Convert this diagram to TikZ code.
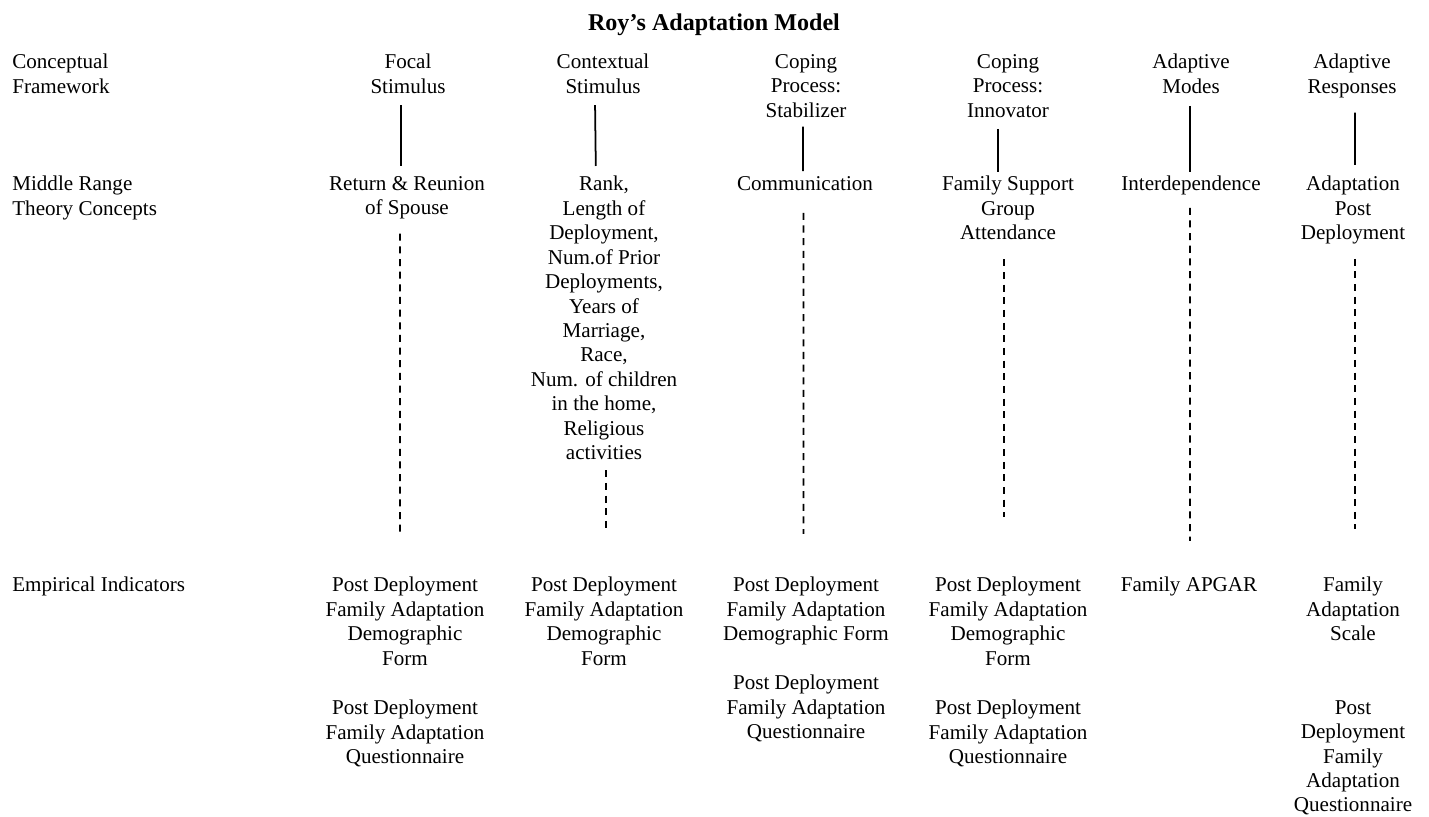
\documentclass[tikz,border=0pt]{standalone}
\usepackage{fontspec}
\setmainfont{Liberation Serif}
\usepackage{tikz}

\begin{document}
\begin{tikzpicture}[x=0.02cm, y=-0.02cm,
    txt/.style={inner sep=0pt, align=center, anchor=north, font=\fontsize{12}{13.9}\selectfont},
    rowlabel/.style={txt, align=left, anchor=north west},
    solidlink/.style={line width=1pt},
    dashlink/.style={line width=1pt, dash pattern=on 4pt off 3.2pt}]
    \useasboundingbox (0,0) rectangle (1429,816);

    \node[txt, font=\fontsize{13.7}{16}\selectfont\bfseries] (title) at (714,13) {Roy's Adaptation Model};

    \node[rowlabel] (lab1) at (12,54) {Conceptual\\Framework};
    \node[rowlabel] (lab2) at (12,176) {Middle Range\\Theory Concepts};
    \node[rowlabel] (lab3) at (12,577) {Empirical Indicators};

    \node[txt] (fs) at (408,54) {Focal\\Stimulus};
    \node[txt] (cs) at (603,54) {Contextual\\Stimulus};
    \node[txt] (stab) at (806,54) {Coping\\Process:\\Stabilizer};
    \node[txt] (innov) at (1008,54) {Coping\\Process:\\Innovator};
    \node[txt] (modes) at (1191,54) {Adaptive\\Modes};
    \node[txt] (resp) at (1352,54) {Adaptive\\Responses};

    \node[txt] (reunion) at (407,176) {Return \& Reunion\\of Spouse};
    \node[txt] (rank) at (604,176) {Rank,\\Length of\\Deployment,\\Num.of Prior\\Deployments,\\Years of\\Marriage,\\Race,\\Num. of children\\in the home,\\Religious\\activities};
    \node[txt] (comm) at (805,176) {Communication};
    \node[txt] (fsg) at (1008,176) {Family Support\\Group\\Attendance};
    \node[txt] (interdep) at (1191,176) {Interdependence};
    \node[txt] (adapt) at (1353,176) {Adaptation\\Post\\Deployment};

    \node[txt] (pdform1) at (405,577) {Post Deployment\\Family Adaptation\\Demographic\\Form};
    \node[txt] (pdquest1) at (405,700) {Post Deployment\\Family Adaptation\\Questionnaire};
    \node[txt] (pdform2) at (604,577) {Post Deployment\\Family Adaptation\\Demographic\\Form};
    \node[txt] (pdform3) at (806,577) {Post Deployment\\Family Adaptation\\Demographic Form};
    \node[txt] (pdquest3) at (806,675) {Post Deployment\\Family Adaptation\\Questionnaire};
    \node[txt] (pdform4) at (1008,577) {Post Deployment\\Family Adaptation\\Demographic\\Form};
    \node[txt] (pdquest4) at (1008,700) {Post Deployment\\Family Adaptation\\Questionnaire};
    \node[txt] (apgar) at (1189,577) {Family APGAR};
    \node[txt] (fas) at (1353,577) {Family\\Adaptation\\Scale};
    \node[txt] (pdquest6) at (1353,700) {Post\\Deployment\\Family\\Adaptation\\Questionnaire};

    \draw[solidlink, shorten <=6.3pt, shorten >=5.7pt] ([xshift=-4pt]fs.south) -- ([xshift=-3.4pt]reunion.north);
    \draw[solidlink, shorten <=6.3pt, shorten >=5.7pt] ([xshift=-4.6pt]cs.south) -- ([xshift=-4.6pt]rank.north);
    \draw[solidlink, shorten <=5.1pt, shorten >=2.8pt] ([xshift=-1.7pt]stab.south) -- ([xshift=-1.1pt]comm.north);
    \draw[solidlink, shorten <=6.3pt, shorten >=2.3pt] ([xshift=-5.7pt]innov.south) -- ([xshift=-5.7pt]fsg.north);
    \draw[solidlink, shorten <=6.8pt, shorten >=2.3pt] ([xshift=-0.6pt]modes.south) -- ([xshift=-0.6pt]interdep.north);
    \draw[solidlink, shorten <=8.2pt, shorten >=6.3pt] ([xshift=1.7pt]resp.south) -- ([xshift=1.1pt]adapt.north);

    \draw[dashlink, shorten <=8pt, shorten >=25pt] ([xshift=-4pt]reunion.south) -- ([xshift=-2.8pt]pdform1.north);
    \draw[dashlink, shorten <=5.7pt, shorten >=27.9pt] ([xshift=1.1pt]rank.south) -- ([xshift=1.1pt]pdform2.north);
    \draw[dashlink, shorten <=12.5pt, shorten >=24.5pt] ([xshift=-0.8pt]comm.south) -- ([xshift=-1.4pt]pdform3.north);
    \draw[dashlink, shorten <=10.8pt, shorten >=34pt] ([xshift=-2.3pt]fsg.south) -- ([xshift=-2.3pt]pdform4.north);
    \draw[dashlink, shorten <=6.8pt, shorten >=20.5pt] ([xshift=-0.6pt]interdep.south) -- ([xshift=0.6pt]apgar.north);
    \draw[dashlink, shorten <=8pt, shorten >=27.3pt] ([xshift=1.1pt]adapt.south) -- ([xshift=1.1pt]fas.north);
\end{tikzpicture}
\end{document}
